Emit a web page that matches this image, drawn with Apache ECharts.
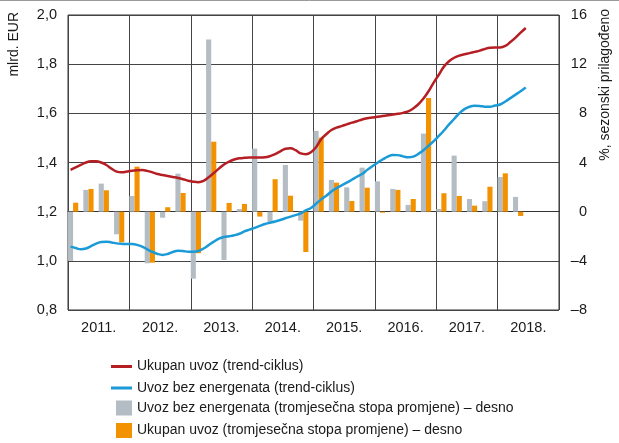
<!DOCTYPE html>
<html>
<head>
<meta charset="utf-8">
<script src="https://cdn.jsdelivr.net/npm/echarts@6/dist/echarts.min.js"></script>
<style>
html,body{margin:0;padding:0;background:#fff;}
#c{width:619px;height:443px;}
</style>
</head>
<body>
<div id="c"></div>
<script>
// ---- data ----
const yearLabels = ['2011.', '2012.', '2013.', '2014.', '2015.', '2016.', '2017.', '2018.'];

// monthly trend-cycle, mlrd. EUR (Jan 2011 - Jun 2018)
const ukupanTrend = [
  1.37, 1.38, 1.39, 1.40, 1.405, 1.405, 1.40, 1.39, 1.375, 1.363, 1.36, 1.363,
  1.366, 1.368, 1.369, 1.366, 1.36, 1.353, 1.349, 1.345, 1.341, 1.337, 1.332, 1.326,
  1.322, 1.32, 1.325, 1.34, 1.357, 1.375, 1.392, 1.404, 1.412, 1.417, 1.419, 1.42,
  1.42, 1.42, 1.421, 1.426, 1.434, 1.445, 1.456, 1.458, 1.45, 1.437, 1.434, 1.442,
  1.462, 1.495, 1.515, 1.532, 1.542, 1.548, 1.555, 1.562, 1.568, 1.575, 1.58, 1.583,
  1.586, 1.589, 1.592, 1.595, 1.598, 1.602, 1.608, 1.62, 1.637, 1.66, 1.69, 1.725,
  1.757, 1.79, 1.812, 1.826, 1.835, 1.84, 1.845, 1.85, 1.855, 1.862, 1.867, 1.868,
  1.868, 1.874, 1.89, 1.908, 1.928, 1.947
];
const bezEnergTrend = [
  1.058, 1.052, 1.047, 1.05, 1.06, 1.07, 1.077, 1.078, 1.075, 1.071, 1.069, 1.068,
  1.068, 1.065, 1.058, 1.047, 1.036, 1.028, 1.024, 1.028, 1.036, 1.041, 1.04, 1.037,
  1.037, 1.04, 1.05, 1.064, 1.078, 1.09, 1.097, 1.1, 1.104, 1.11, 1.12, 1.127,
  1.134, 1.142, 1.15, 1.155, 1.16, 1.166, 1.173, 1.18, 1.186, 1.193, 1.205, 1.215,
  1.232, 1.25, 1.265, 1.282, 1.296, 1.307, 1.318, 1.33, 1.342, 1.353, 1.37, 1.385,
  1.399, 1.412, 1.424, 1.431, 1.43, 1.425, 1.421, 1.424, 1.435, 1.45, 1.468, 1.487,
  1.508, 1.53, 1.555, 1.577, 1.6, 1.617, 1.627, 1.631, 1.63, 1.627, 1.627, 1.632,
  1.636, 1.648, 1.662, 1.676, 1.69, 1.705
];

// quarterly rates of change, % (Q1 2011 - Q2 2018), right axis
const bezEnergStopa = [
  -4.0, 1.77, 2.28, -1.84,
  1.28, -4.2, -0.49, 3.09,
  -5.45, 14.0, -3.93, 0.22,
  5.13, -0.86, 3.8, -0.73,
  6.57, 2.58, 1.98, 3.58,
  2.47, 1.85, 0.55, 6.35,
  0.22, 4.56, 1.03, 0.85,
  2.82, 1.2
];
const ukupanStopa = [
  0.73, 1.85, 1.74, -2.49,
  3.66, -4.15, 0.36, 1.52,
  -3.38, 5.69, 0.71, 0.63,
  -0.4, 2.64, 1.3, -3.28,
  6.02, 2.36, 0.87, 1.95,
  -0.08, 1.77, 1.03, 9.25,
  1.5, 1.28, 0.49, 2.03,
  3.12, -0.35
];

const leftTicks = { min: 0.8, max: 2.0, interval: 0.2 };
const rightTicks = { min: -8, max: 16, interval: 4 };

const names = {
  ukupanTrend: 'Ukupan uvoz (trend-ciklus)',
  bezEnergTrend: 'Uvoz bez energenata (trend-ciklus)',
  bezEnergStopa: 'Uvoz bez energenata (tromjesečna stopa promjene) – desno',
  ukupanStopa: 'Ukupan uvoz (tromjesečna stopa promjene) – desno'
};

// ---- build monthly category axis ----
const months = [];
yearLabels.forEach(y => { for (let m = 1; m <= 12; m++) months.push(y + m); });
// quarterly bars: grey in first month of quarter, orange in second month
const greyMonthly = months.map(() => null);
const orangeMonthly = months.map(() => null);
bezEnergStopa.forEach((v, q) => { greyMonthly[q * 3] = v; });
ukupanStopa.forEach((v, q) => { orangeMonthly[q * 3 + 1] = v; });

const FONT = '"Liberation Sans", Arial, sans-serif';
const TXT = '#1a1a1a';
const GRIDC = '#444';

const legendText = { color: TXT, fontSize: 14, fontFamily: FONT };
function lineLegend(name, top) {
  return { orient: 'vertical', left: 111, top: top, padding: 0, itemWidth: 21, itemHeight: 3,
    data: [{ name: name, icon: 'rect' }], textStyle: legendText };
}
function barLegend(name, top) {
  return { orient: 'vertical', left: 116, top: top, padding: 0, itemWidth: 16, itemHeight: 15,
    data: [{ name: name, icon: 'rect' }], textStyle: legendText };
}

const chart = echarts.init(document.getElementById('c'), null, { renderer: 'canvas' });
chart.setOption({
  animation: false,
  backgroundColor: '#fff',
  textStyle: { fontFamily: FONT },
  grid: { left: 68, right: 60, top: 15, bottom: 133, show: true, borderColor: '#333', borderWidth: 1, backgroundColor: 'transparent' },
  xAxis: [
    {
      type: 'category', data: yearLabels, boundaryGap: true, position: 'bottom',
      axisLine: { show: true, lineStyle: { color: '#333', width: 1 } },
      axisTick: { show: false },
      axisLabel: { color: TXT, fontSize: 14.5, fontFamily: FONT, margin: 10 },
      splitLine: { show: true, lineStyle: { color: GRIDC, width: 1 } }
    },
    {
      type: 'category', data: months, boundaryGap: true, show: false
    }
  ],
  yAxis: [
    {
      type: 'value', min: leftTicks.min, max: leftTicks.max, interval: leftTicks.interval,
      axisLine: { show: false }, axisTick: { show: false },
      axisLabel: { color: TXT, fontSize: 14.5, fontFamily: FONT, margin: 11,
        formatter: v => v.toFixed(1).replace('.', ',') },
      splitLine: { show: true, lineStyle: { color: GRIDC, width: 1 } }
    },
    {
      type: 'value', min: rightTicks.min, max: rightTicks.max, interval: rightTicks.interval, position: 'right',
      axisLine: { show: false }, axisTick: { show: false },
      axisLabel: { color: TXT, fontSize: 14.5, fontFamily: FONT, margin: 28, align: 'right',
        formatter: v => (v < 0 ? '\u2013' + Math.abs(v) : String(v)) },
      splitLine: { show: false }
    }
  ],
  legend: [
    lineLegend(names.ukupanTrend, 359.5),
    lineLegend(names.bezEnergTrend, 381),
    barLegend(names.bezEnergStopa, 400.5),
    barLegend(names.ukupanStopa, 423)
  ],
  graphic: [
    { type: 'line', shape: { x1: 0, y1: 0.5, x2: 619, y2: 0.5 }, style: { stroke: '#999', lineWidth: 1 } },
    { type: 'text', x: 14, y: 12, rotation: Math.PI / 2,
      style: { text: 'mlrd. EUR', fill: TXT, font: '14px ' + FONT, textAlign: 'right', textVerticalAlign: 'middle' } },
    { type: 'text', x: 605, y: 9, rotation: Math.PI / 2,
      style: { text: '%, sezonski prilagođeno', fill: TXT, font: '14px ' + FONT, textAlign: 'right', textVerticalAlign: 'middle' } }
  ],
  series: [
    {
      name: names.bezEnergStopa, type: 'bar', xAxisIndex: 1, yAxisIndex: 1, stack: 'q',
      data: greyMonthly, barCategoryGap: '0%', itemStyle: { color: '#b4bdc3' }
    },
    {
      name: names.ukupanStopa, type: 'bar', xAxisIndex: 1, yAxisIndex: 1, stack: 'q',
      data: orangeMonthly, barCategoryGap: '0%', itemStyle: { color: '#f39200' }
    },
    {
      name: names.ukupanTrend, type: 'line', xAxisIndex: 1, yAxisIndex: 0,
      data: ukupanTrend, smooth: 0.4, symbol: 'none',
      lineStyle: { color: '#b51f24', width: 2.5 }, itemStyle: { color: '#b51f24' }
    },
    {
      name: names.bezEnergTrend, type: 'line', xAxisIndex: 1, yAxisIndex: 0,
      data: bezEnergTrend, smooth: 0.4, symbol: 'none',
      lineStyle: { color: '#1a9bd7', width: 2.5 }, itemStyle: { color: '#1a9bd7' }
    }
  ]
});
</script>
</body>
</html>
